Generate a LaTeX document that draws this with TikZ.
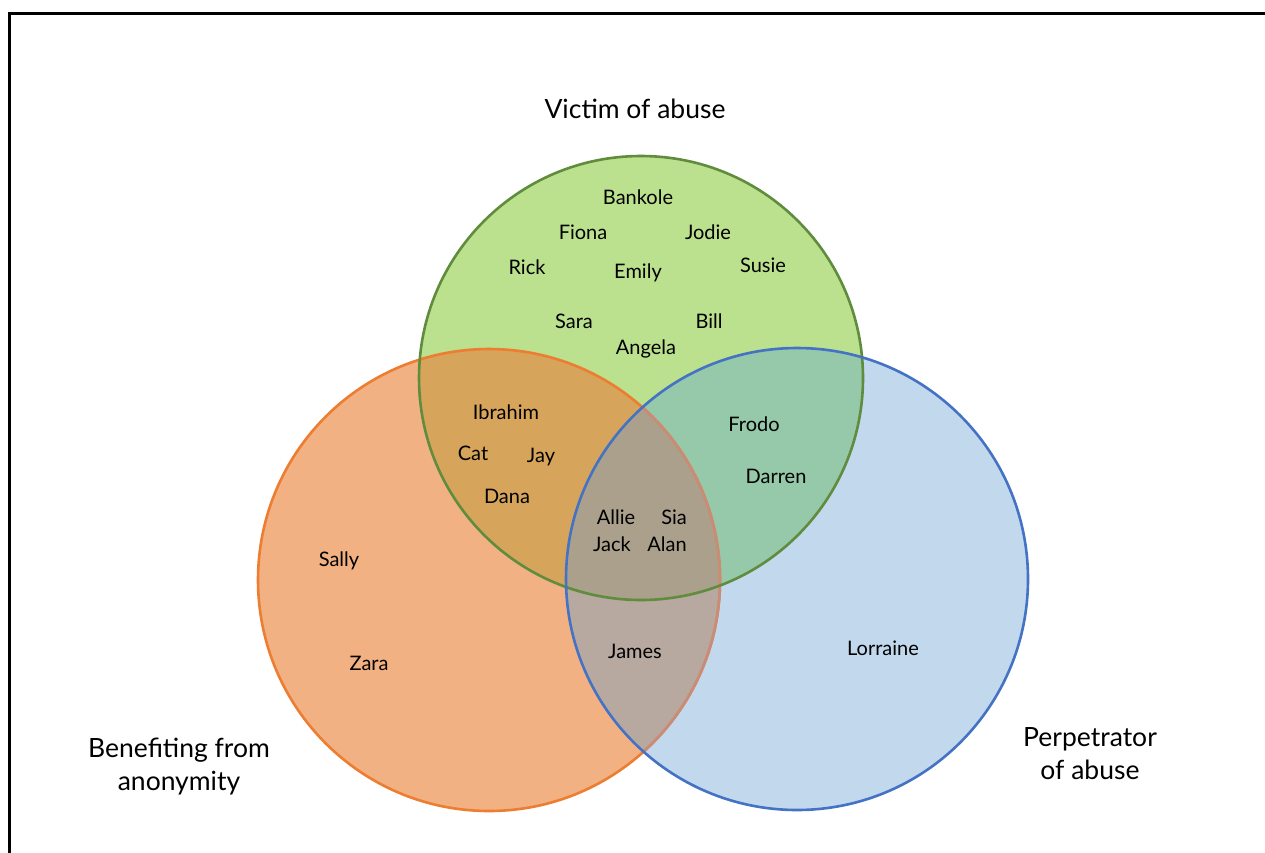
\documentclass[tikz,border=0pt]{standalone}
\usepackage{fontspec}
\setmainfont{Lato}
\begin{document}
\begin{tikzpicture}[x=1pt,y=-1pt,
  person/.style={font=\fontsize{20}{22}\selectfont, text=black},
  setlabel/.style={font=\fontsize{26.5}{33}\selectfont, text=black, align=center},
  ring/.style={line width=2.6pt}]
\definecolor{gfill}{RGB}{187,224,142}
\definecolor{ofill}{RGB}{242,177,130}
\definecolor{bfill}{RGB}{194,216,237}
\definecolor{ogfill}{RGB}{214,164,90}
\definecolor{gbfill}{RGB}{150,200,170}
\definecolor{obfill}{RGB}{183,168,160}
\definecolor{allfill}{RGB}{171,160,140}
\definecolor{gline}{RGB}{96,140,62}
\definecolor{oline}{RGB}{237,125,49}
\definecolor{bline}{RGB}{68,114,196}
\definecolor{olinefaded}{RGB}{200,140,120}
\useasboundingbox (0,0) rectangle (1265,852);
\fill[white] (0,0) rectangle (1265,852);
\draw[line width=3.5pt, black] (9.5,860) -- (9.5,13.5) -- (1270,13.5);
% circles as coordinates
\coordinate (G) at (641,378);
\coordinate (O) at (489,580);
\coordinate (B) at (797,579);
% fills
\fill[gfill] (G) circle (222);
\fill[ofill] (O) circle (231);
\fill[bfill] (B) circle (231);
\begin{scope}
  \clip (G) circle (222);
  \fill[ogfill] (O) circle (231);
  \fill[gbfill] (B) circle (231);
\end{scope}
\begin{scope}
  \clip (O) circle (231);
  \fill[obfill] (B) circle (231);
  \clip (B) circle (231);
  \fill[allfill] (G) circle (222);
\end{scope}
% outlines
\draw[ring, oline] (O) circle (231);
\begin{scope}
  \clip (B) circle (231);
  \draw[ring, olinefaded] (O) circle (231);
\end{scope}
\draw[ring, gline] (G) circle (222);
\draw[ring, bline] (B) circle (231);
% labels
\node[setlabel] (victim) at (635,109) {Victim of abuse};
\node[setlabel] (benefit) at (179,767) {Benefiting from\\anonymity};
\node[setlabel] (perp) at (1090,754) {Perpetrator\\of abuse};
% names
\node[person] (bankole) at (638,197) {Bankole};
\node[person] (fiona) at (583,232) {Fiona};
\node[person] (jodie) at (708,232) {Jodie};
\node[person] (rick) at (527,267) {Rick};
\node[person] (emily) at (638,273) {Emily};
\node[person] (susie) at (763,265) {Susie};
\node[person] (sara) at (574,321) {Sara};
\node[person] (bill) at (709,321) {Bill};
\node[person] (angela) at (646,349) {Angela};
\node[person] (ibrahim) at (506,412) {Ibrahim};
\node[person] (cat) at (473,453) {Cat};
\node[person] (jay) at (541,457) {Jay};
\node[person] (dana) at (507,496) {Dana};
\node[person] (frodo) at (754,424) {Frodo};
\node[person] (darren) at (776,476) {Darren};
\node[person] (allie) at (616,517) {Allie};
\node[person] (sia) at (674,517) {Sia};
\node[person] (jack) at (612,544) {Jack};
\node[person] (alan) at (667,544) {Alan};
\node[person] (sally) at (339,561) {Sally};
\node[person] (zara) at (369,663) {Zara};
\node[person] (james) at (635,651) {James};
\node[person] (lorraine) at (883,648) {Lorraine};
\end{tikzpicture}
\end{document}
